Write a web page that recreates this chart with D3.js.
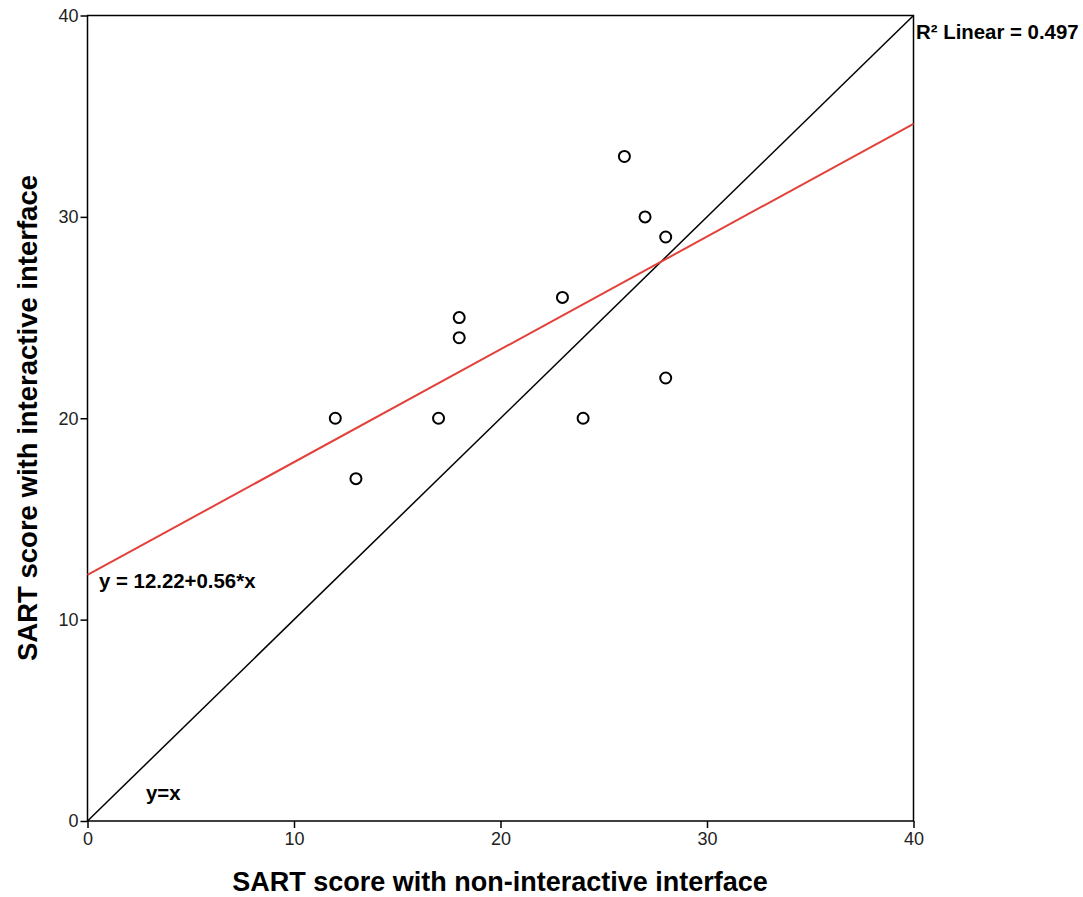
<!DOCTYPE html>
<html><head><meta charset="utf-8">
<script src="https://cdn.jsdelivr.net/npm/d3@7"></script>
<style>body{margin:0;background:#fff}svg{display:block}text{font-family:"Liberation Sans",Arial,sans-serif}</style>
</head><body>
<svg id="c" width="1083" height="897"></svg>
<script>
const xValues = [12, 13, 17, 18, 18, 23, 24, 26, 27, 28, 28];
const yValues = [20, 17, 20, 25, 24, 26, 20, 33, 30, 29, 22];
const tickValues = [0, 10, 20, 30, 40];
const fitIntercept = 12.22, fitSlope = 0.56;
const r2Label = "R² Linear = 0.497";
const fitLabel = "y = 12.22+0.56*x";
const identityLabel = "y=x";
const xTitle = "SART score with non-interactive interface";
const yTitle = "SART score with interactive interface";

const svg = d3.select("#c");
const L = 87.5, R = 913.5, T = 15.5, B = 821;
const x = d3.scaleLinear().domain([0, 40]).range([L, R]);
const y = d3.scaleLinear().domain([0, 40]).range([B, T]);

svg.append("rect").attr("x", L).attr("y", T).attr("width", R - L).attr("height", B - T)
  .attr("fill", "none").attr("stroke", "#000").attr("stroke-width", 1.5);

const xAxis = svg.append("g").attr("transform", `translate(0,${B})`)
  .call(d3.axisBottom(x).tickValues(tickValues).tickSize(7).tickPadding(4));
const yAxis = svg.append("g").attr("transform", `translate(${L},0)`)
  .call(d3.axisLeft(y).tickValues(tickValues).tickSize(7).tickPadding(2));
[xAxis, yAxis].forEach(g => {
  g.select(".domain").remove();
  g.selectAll(".tick line").attr("stroke", "#000").attr("stroke-width", 1.5);
  g.selectAll(".tick text").attr("fill", "#222").style("font-size", "18px")
    .style("font-family", '"Liberation Sans",Arial,sans-serif');
});

svg.append("line").attr("x1", x(0)).attr("y1", y(0)).attr("x2", x(40)).attr("y2", y(40))
  .attr("stroke", "#000").attr("stroke-width", 1.5);
svg.append("line").attr("x1", x(0)).attr("y1", y(fitIntercept)).attr("x2", x(40)).attr("y2", y(fitIntercept + fitSlope * 40))
  .attr("stroke", "#e3413a").attr("stroke-width", 2);

svg.append("g").selectAll("circle").data(xValues.map((v, i) => [v, yValues[i]])).join("circle")
  .attr("cx", d => x(d[0])).attr("cy", d => y(d[1])).attr("r", 5.5)
  .attr("fill", "#fff").attr("stroke", "#000").attr("stroke-width", 2);

svg.append("text").attr("x", 916).attr("y", 39).style("font-size", "20.4px").style("font-weight", "bold").text(r2Label);
svg.append("text").attr("x", 99).attr("y", 588).style("font-size", "20.4px").style("font-weight", "bold").text(fitLabel);
svg.append("text").attr("x", 146).attr("y", 800).style("font-size", "20.4px").style("font-weight", "bold").text(identityLabel);

svg.append("text").attr("x", 500).attr("y", 891).attr("text-anchor", "middle")
  .style("font-size", "27px").style("font-weight", "bold").text(xTitle);
svg.append("text").attr("transform", `translate(37,418) rotate(-90)`).attr("text-anchor", "middle")
  .style("font-size", "27.5px").style("font-weight", "bold").text(yTitle);
</script>
</body></html>
